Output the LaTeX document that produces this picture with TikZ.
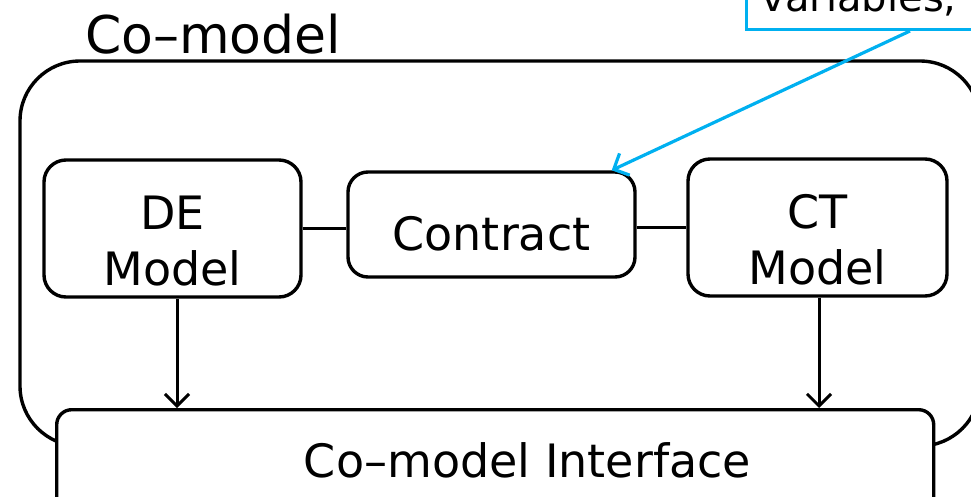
\documentclass[tikz,border=0pt]{standalone}
\usepackage{fontspec}
\setmainfont{DejaVu Sans}
\usetikzlibrary{arrows.meta,calc}
\definecolor{callblue}{RGB}{0,176,240}
\begin{document}
\begin{tikzpicture}[x=1pt,y=-1pt,
  box/.style={draw, line width=3.4pt, rounded corners=22pt, align=center, inner sep=0pt,
    font=\fontsize{46}{56}\selectfont},
  conn/.style={line width=3pt},
  arr/.style={conn, -{Straight Barb[length=12pt,width=24pt]}},
  callarr/.style={line width=3.2pt, draw=callblue, -{Straight Barb[length=12pt,width=24pt]}},
  callout/.style={draw=callblue, line width=3.4pt, fill=white, inner xsep=15pt, inner ysep=18pt,
    text depth=0pt, text width=300pt, align=left, font=\fontsize{40}{48}\selectfont},
]
\useasboundingbox (0,0) rectangle (971,496);
% outer co-model container
\node[draw, line width=3.4pt, rounded corners=60pt, minimum width=960pt, minimum height=385pt,
      inner sep=0pt] (outer) at (500,253.5) {};
\node[anchor=base west, inner sep=0pt, font=\fontsize{52}{60}\selectfont] (title) at (85,53) {Co–model};
% inner boxes
\node[box, minimum width=257pt, minimum height=137pt] (de) at (172.5,228.5)
  {\rule{0pt}{59pt}DE\\Model};
\node[box, rounded corners=20pt, minimum width=287pt, minimum height=105pt,
      text height=51.5pt, text depth=0pt] (contract) at (491.5,224.5) {Contract};
\node[box, minimum width=259pt, minimum height=137pt] (ct) at (817.5,227.5)
  {\rule{0pt}{59pt}CT\\Model};
% interface box (cropped at the bottom)
\node[draw, line width=3.4pt, fill=white, rounded corners=15pt, minimum width=877pt,
      minimum height=122pt, inner sep=0pt, anchor=north west] (iface) at (55,408) {};
\node[anchor=base, inner sep=0pt, font=\fontsize{46}{56}\selectfont] (ifacetext) at (527.5,477)
  {Co–model Interface};
% connectors
\draw[conn] (de.east) -- (de.east -| contract.west);
\draw[conn] (contract.east |- ct.west) -- (ct.west);
\draw[arr] ([xshift=4.5pt]de.south) -- ([xshift=4.5pt]de.south |- iface.north);
\draw[arr] ([xshift=1.5pt]ct.south) -- ([xshift=1.5pt]ct.south |- iface.north);
% callout (cropped at the top and right)
\node[callout, anchor=south west] (call) at (745,31) {variables,};
\draw[callarr] ([xshift=165pt]call.south west) -- ([xshift=-25pt]contract.north east);
\end{tikzpicture}
\end{document}
